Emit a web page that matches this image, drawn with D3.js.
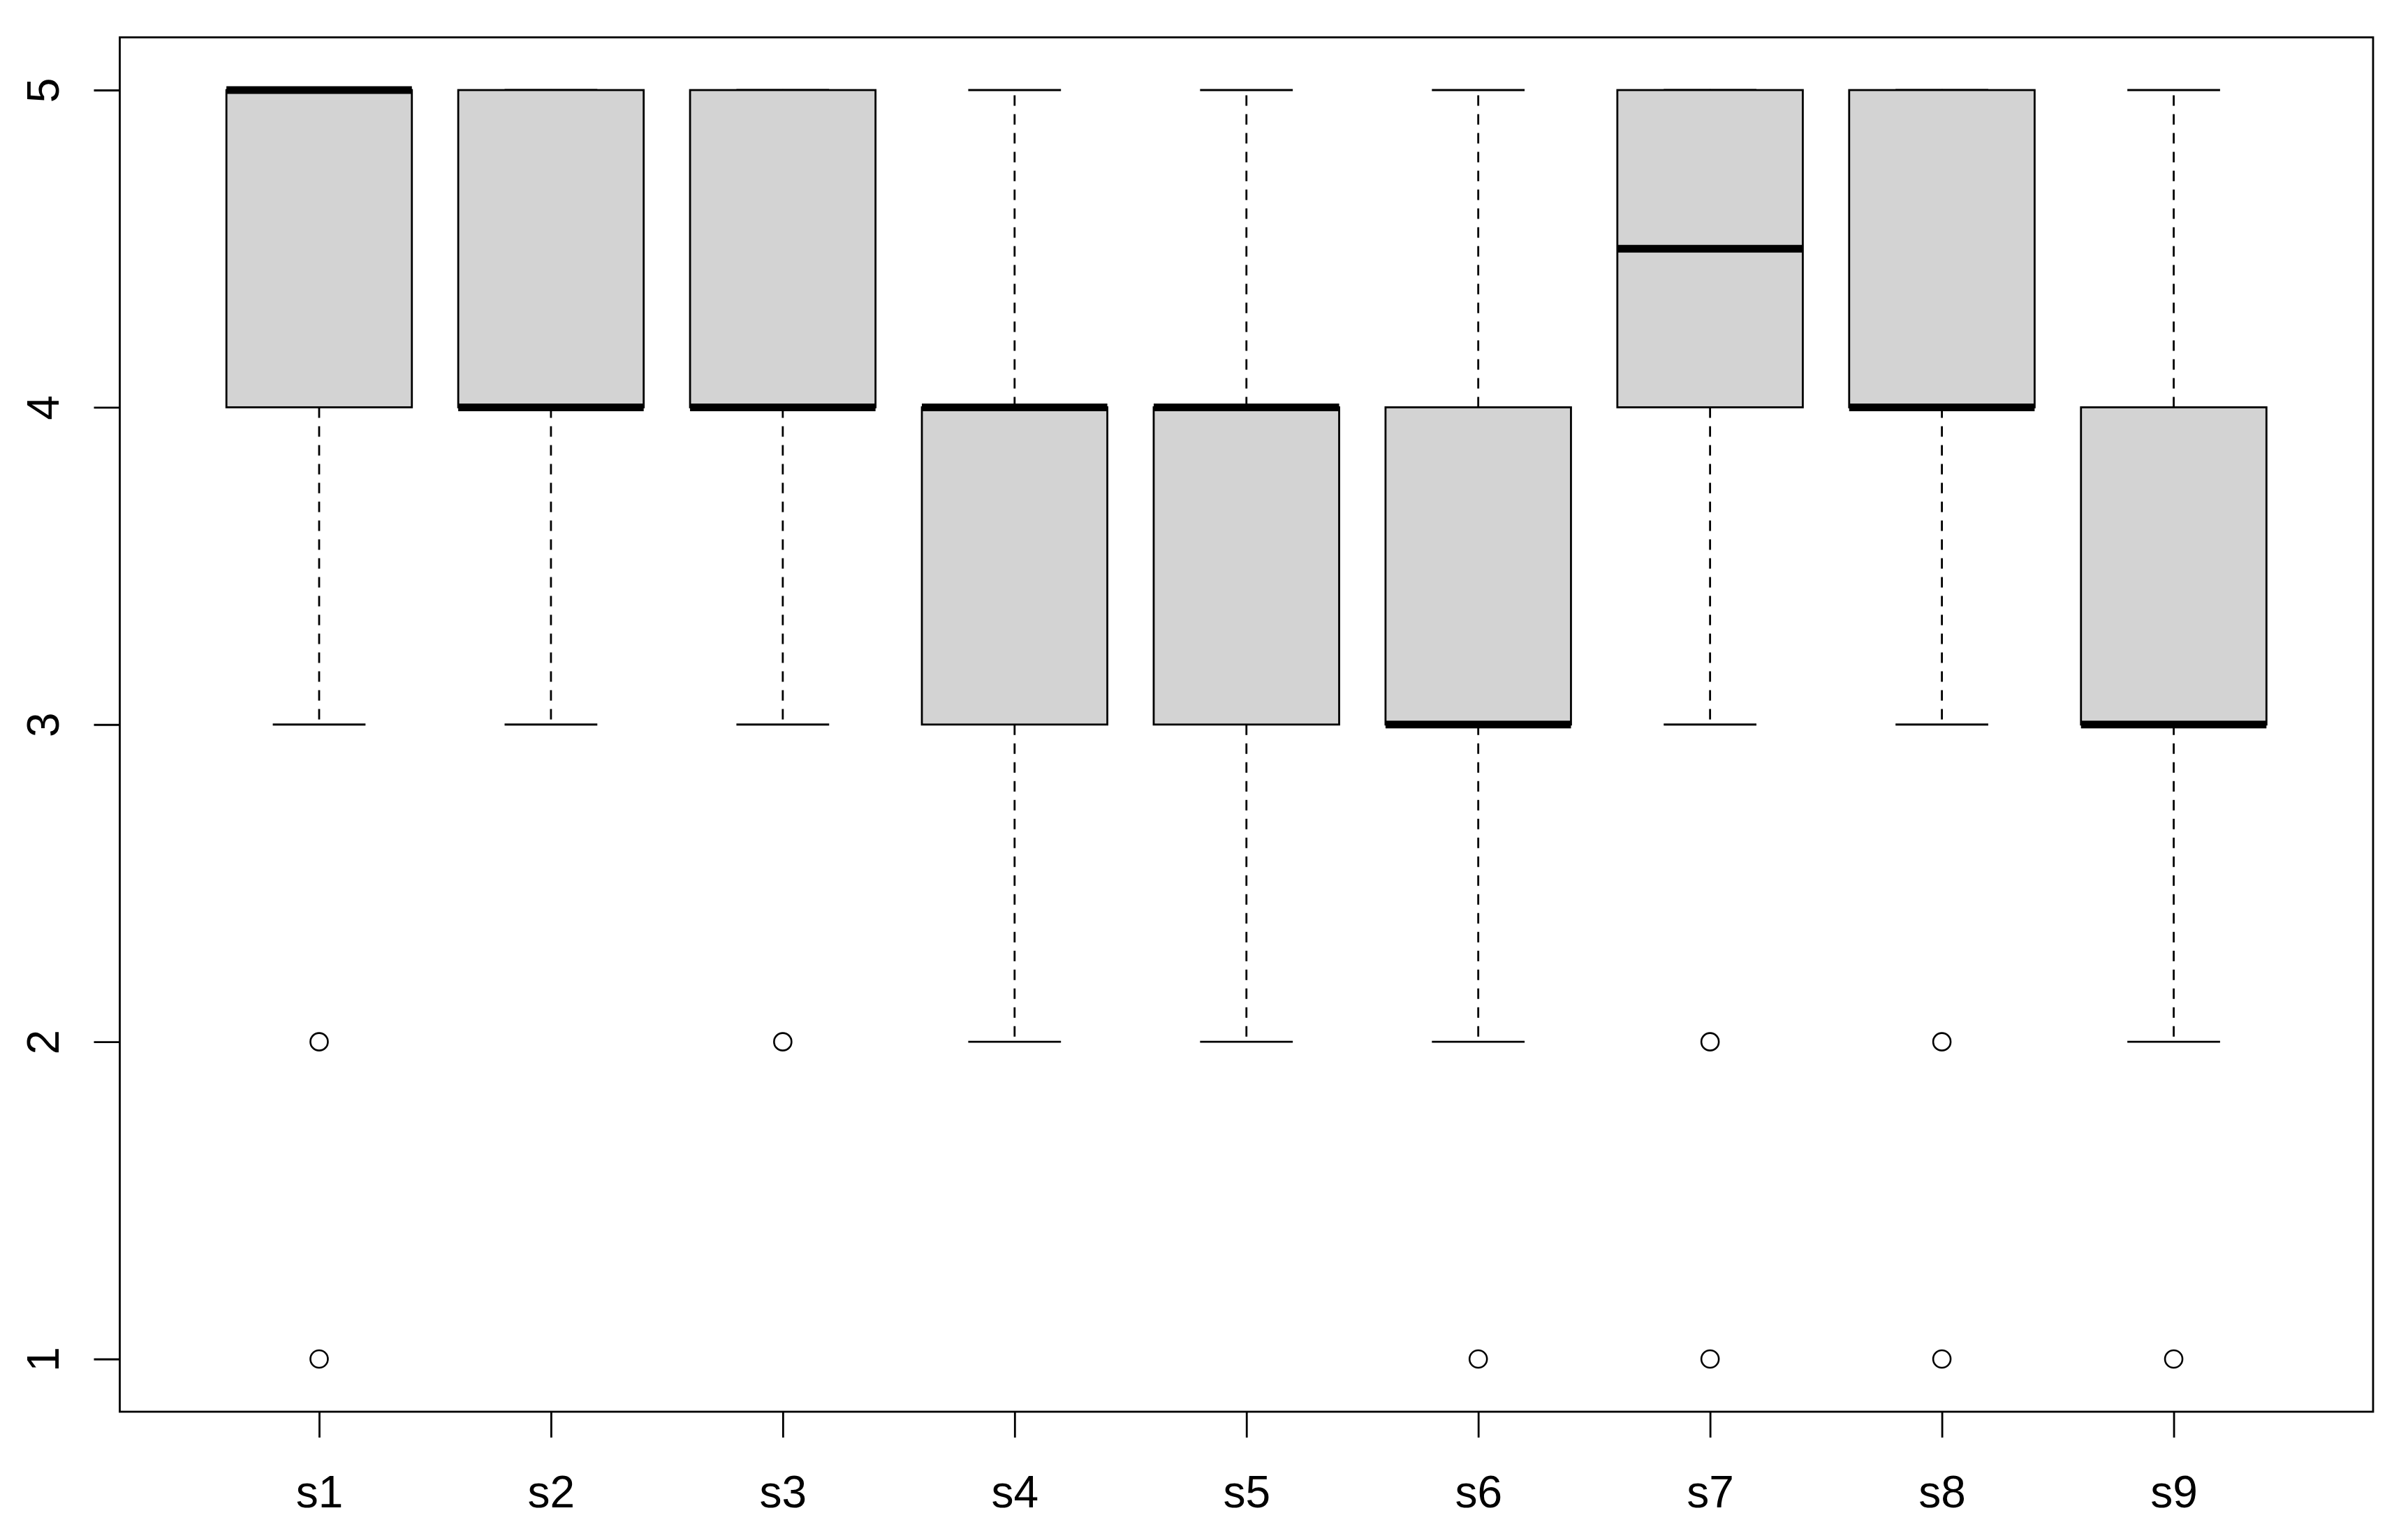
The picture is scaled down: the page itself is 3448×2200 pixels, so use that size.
<!DOCTYPE html>
<html>
<head>
<meta charset="utf-8">
<script src="https://cdn.jsdelivr.net/npm/d3@7"></script>
<style>
  html, body { margin: 0; padding: 0; background: #fff; }
  svg { display: block; }
  text { font-family: "Liberation Sans", Arial, sans-serif; }
</style>
</head>
<body>
<div id="chart"></div>
<script>
// box stats, one entry per group
var categories   = ['s1', 's2', 's3', 's4', 's5', 's6', 's7', 's8', 's9'];
var lowWhisker   = [3, 3, 3, 2, 2, 2, 3, 3, 2];
var q1           = [4, 4, 4, 3, 3, 3, 4, 4, 3];
var medians      = [5, 4, 4, 4, 4, 3, 4.5, 4, 3];
var q3           = [5, 5, 5, 4, 4, 4, 5, 5, 4];
var highWhisker  = [5, 5, 5, 5, 5, 5, 5, 5, 5];
var outliers     = [[2, 1], [], [2], [], [], [1], [2, 1], [2, 1], [1]];
var yTicks       = [1, 2, 3, 4, 5];

var svgWidth = 3448, svgHeight = 2200;
// plot region (window.top is read-only, so no bare "top")
var plotLeft = 171.5, plotRight = 3398, plotTop = 53.5, plotBottom = 2022;
var lw = 2.8;

var svg = d3.select('#chart')
    .append('svg')
    .attr('width', svgWidth)
    .attr('height', svgHeight);

// R-style x range: 0.5..9.5 padded by 4% each side
var x = d3.scaleLinear().domain([0.14, 9.86]).range([plotLeft, plotRight]);
// y fitted to where the ticks 1 and 5 sit in the picture
var y = d3.scaleLinear().domain([1, 5]).range([1946.5, 129]);

var boxHalf = x(1.4) - x(1);
var stapleHalf = x(1.2) - x(1);

var groups = categories.map(function(c, i) {
    return {
        name: c, pos: i + 1,
        lo: lowWhisker[i], q1: q1[i], med: medians[i], q3: q3[i], hi: highWhisker[i],
        out: outliers[i]
    };
});

var g = svg.selectAll('g.box')
    .data(groups)
    .enter()
    .append('g')
    .attr('class', 'box');

// whiskers
g.selectAll('line.whisk')
    .data(function(d) { return [[d.q1, d.lo, d.pos], [d.q3, d.hi, d.pos]]; })
    .enter()
    .append('line')
    .attr('x1', function(d) { return x(d[2]); })
    .attr('x2', function(d) { return x(d[2]); })
    .attr('y1', function(d) { return y(d[0]); })
    .attr('y2', function(d) { return y(d[1]); })
    .attr('stroke', '#000')
    .attr('stroke-width', lw)
    .attr('stroke-dasharray', '15,12');

// staples
g.selectAll('line.staple')
    .data(function(d) { return [[d.lo, d.pos], [d.hi, d.pos]]; })
    .enter()
    .append('line')
    .attr('x1', function(d) { return x(d[1]) - stapleHalf; })
    .attr('x2', function(d) { return x(d[1]) + stapleHalf; })
    .attr('y1', function(d) { return y(d[0]); })
    .attr('y2', function(d) { return y(d[0]); })
    .attr('stroke', '#000')
    .attr('stroke-width', lw);

// box
g.append('rect')
    .attr('x', function(d) { return x(d.pos) - boxHalf; })
    .attr('y', function(d) { return y(d.q3); })
    .attr('width', boxHalf * 2)
    .attr('height', function(d) { return y(d.q1) - y(d.q3); })
    .attr('fill', '#d3d3d3')
    .attr('stroke', '#000')
    .attr('stroke-width', lw);

// median
g.append('line')
    .attr('x1', function(d) { return x(d.pos) - boxHalf; })
    .attr('x2', function(d) { return x(d.pos) + boxHalf; })
    .attr('y1', function(d) { return y(d.med); })
    .attr('y2', function(d) { return y(d.med); })
    .attr('stroke', '#000')
    .attr('stroke-width', 11);

// outliers
g.selectAll('circle')
    .data(function(d) { return d.out.map(function(v) { return [d.pos, v]; }); })
    .enter()
    .append('circle')
    .attr('cx', function(d) { return x(d[0]); })
    .attr('cy', function(d) { return y(d[1]); })
    .attr('r', 12.5)
    .attr('fill', 'none')
    .attr('stroke', '#000')
    .attr('stroke-width', 2.6);

// frame
svg.append('rect')
    .attr('x', plotLeft)
    .attr('y', plotTop)
    .attr('width', plotRight - plotLeft)
    .attr('height', plotBottom - plotTop)
    .attr('fill', 'none')
    .attr('stroke', '#000')
    .attr('stroke-width', lw);

// x axis
var xAxis = svg.append('g')
    .attr('transform', 'translate(0,' + plotBottom + ')')
    .call(d3.axisBottom(x)
        .tickValues(d3.range(1, categories.length + 1))
        .tickFormat(function(d) { return categories[d - 1]; })
        .tickSize(37)
        .tickSizeOuter(0));
xAxis.select('.domain').remove();
xAxis.selectAll('line').attr('stroke', '#000').attr('stroke-width', lw);
xAxis.selectAll('text')
    .attr('y', 137)
    .attr('dy', null)
    .attr('fill', '#000')
    .style('font-size', '64px')
    .style('font-family', '"Liberation Sans", Arial, sans-serif');

// y axis, labels turned like R's default
var yAxis = svg.append('g')
    .attr('transform', 'translate(' + plotLeft + ',0)')
    .call(d3.axisLeft(y)
        .tickValues(yTicks)
        .tickFormat(d3.format('d'))
        .tickSize(37)
        .tickSizeOuter(0));
yAxis.select('.domain').remove();
yAxis.selectAll('line').attr('stroke', '#000').attr('stroke-width', lw);
yAxis.selectAll('text')
    .attr('x', null)
    .attr('dy', null)
    .attr('text-anchor', 'middle')
    .attr('transform', 'translate(' + (84 - plotLeft) + ',0) rotate(-90)')
    .attr('fill', '#000')
    .style('font-size', '64px')
    .style('font-family', '"Liberation Sans", Arial, sans-serif');
</script>
</body>
</html>
